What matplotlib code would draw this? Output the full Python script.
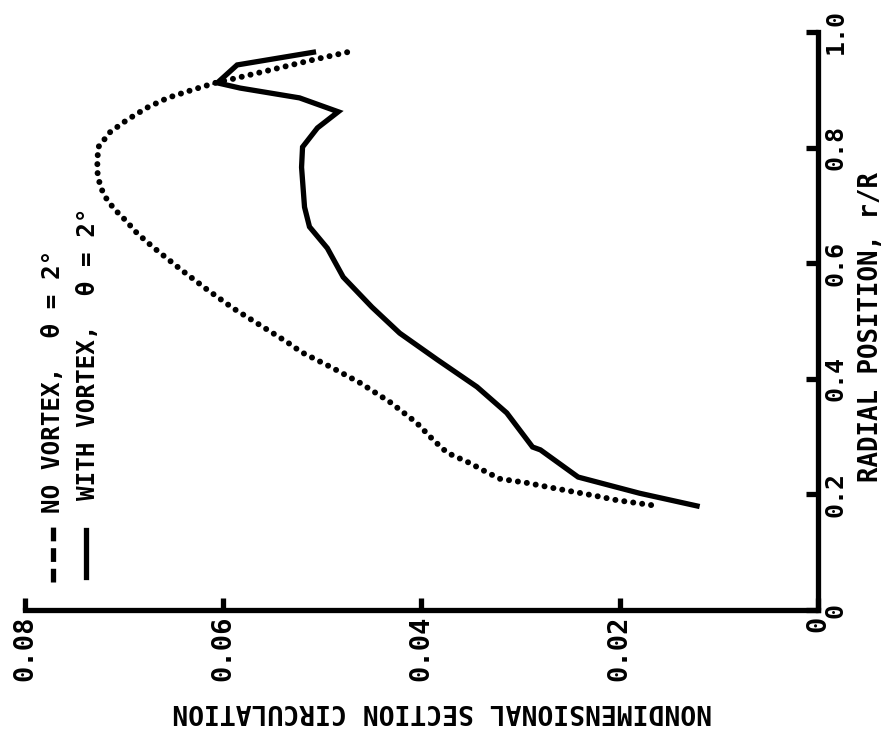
import matplotlib
matplotlib.use("Agg")
import matplotlib.pyplot as plt
from matplotlib.lines import Line2D

plt.rcParams['font.family'] = ['DejaVu Sans Mono', 'DejaVu Sans']
plt.rcParams['font.weight'] = 'bold'
plt.rcParams['axes.labelweight'] = 'bold'

# radial position r/R and circulation
r_no_vortex = [0.965, 0.952, 0.919, 0.913, 0.900, 0.886, 0.869, 0.848, 0.827, 0.801,
               0.779, 0.758, 0.732, 0.709, 0.692, 0.675, 0.652, 0.628, 0.588, 0.554,
               0.522, 0.493, 0.464, 0.446, 0.419, 0.393, 0.360, 0.324, 0.294, 0.272,
               0.254, 0.240, 0.227, 0.220, 0.211, 0.197, 0.190, 0.180]
circ_no_vortex = [0.0475, 0.0509, 0.0590, 0.0606, 0.0631, 0.0656, 0.0677, 0.0697, 0.0714, 0.0726,
                  0.0727, 0.0727, 0.0724, 0.0717, 0.0709, 0.0699, 0.0687, 0.0671, 0.0642, 0.0616,
                  0.0590, 0.0563, 0.0536, 0.0521, 0.0490, 0.0462, 0.0432, 0.0405, 0.0388, 0.0374,
                  0.0351, 0.0336, 0.0321, 0.0294, 0.0267, 0.0223, 0.0203, 0.0162]

r_with_vortex = [0.965, 0.943, 0.912, 0.903, 0.886, 0.862, 0.834, 0.801, 0.766, 0.697,
                 0.663, 0.626, 0.576, 0.524, 0.479, 0.433, 0.386, 0.341, 0.282, 0.277,
                 0.230, 0.202, 0.180]
circ_with_vortex = [0.0509, 0.0586, 0.0606, 0.0583, 0.0523, 0.0484, 0.0505, 0.0520, 0.0521, 0.0518,
                    0.0513, 0.0495, 0.0479, 0.0450, 0.0422, 0.0384, 0.0344, 0.0314, 0.0288, 0.0280,
                    0.0242, 0.0180, 0.0122]

circ_ticks = [0.08, 0.06, 0.04, 0.02, 0.0]
circ_labels = ['0.08', '0.06', '0.04', '0.02', '0']
r_ticks = [0.0, 0.2, 0.4, 0.6, 0.8, 1.0]
r_labels = ['0', '0.2', '0.4', '0.6', '0.8', '1.0']

W, H = 890, 735
fig = plt.figure(figsize=(W / 100, H / 100), dpi=100)
# figure is drawn turned a quarter turn: circulation runs right-to-left, r/R bottom-to-top
ax = fig.add_axes([25 / W, 1 - 610 / H, 793 / W, 578 / H])

ax.plot(circ_no_vortex, r_no_vortex, color='black', lw=4.3,
        linestyle=(0, (0.01, 1.5)), dash_capstyle='round', clip_on=False)
ax.plot(circ_with_vortex, r_with_vortex, color='black', lw=3.8,
        solid_joinstyle='miter', clip_on=False)

ax.set_xlim(0.08, 0.0)
ax.set_ylim(0.0, 1.0)

for side in ['left', 'top']:
    ax.spines[side].set_visible(False)
for side in ['right', 'bottom']:
    ax.spines[side].set_linewidth(3.8)

ax.yaxis.tick_right()
ax.set_xticks(circ_ticks)
ax.set_xticklabels(circ_labels, rotation=90, fontsize=19.5)
ax.set_yticks(r_ticks)
ax.set_yticklabels(r_labels, rotation=90, fontsize=18, va='center')
ax.tick_params(axis='both', direction='in', length=9, width=3.8, pad=4)

ax.set_xlabel('NONDIMENSIONAL SECTION CIRCULATION', fontsize=19, rotation=180)
ax.xaxis.set_label_coords(0.526, -0.152)
ax.yaxis.set_label_position('right')
ax.set_ylabel('RADIAL POSITION, r/R', fontsize=18.5, rotation=90)
ax.yaxis.set_label_coords(1.050, 0.49)

# hand-drawn style legend, turned like the rest of the chart
fig.add_artist(Line2D([53 / W, 53 / W], [1 - 582 / H, 1 - 523 / H], color='black', lw=3.8,
                      dashes=(2.6, 1.3)))
fig.add_artist(Line2D([86 / W, 86 / W], [1 - 577 / H, 1 - 530 / H], color='black', lw=3.8))
fig.text(53 / W, 1 - 513 / H, 'NO VORTEX,  θ = 2°', rotation=90, fontsize=17.5,
         ha='center', va='bottom')
fig.text(88 / W, 1 - 500 / H, 'WITH VORTEX,  θ = 2°', rotation=90, fontsize=17.5,
         ha='center', va='bottom')

fig.savefig('out.png', dpi=100)
